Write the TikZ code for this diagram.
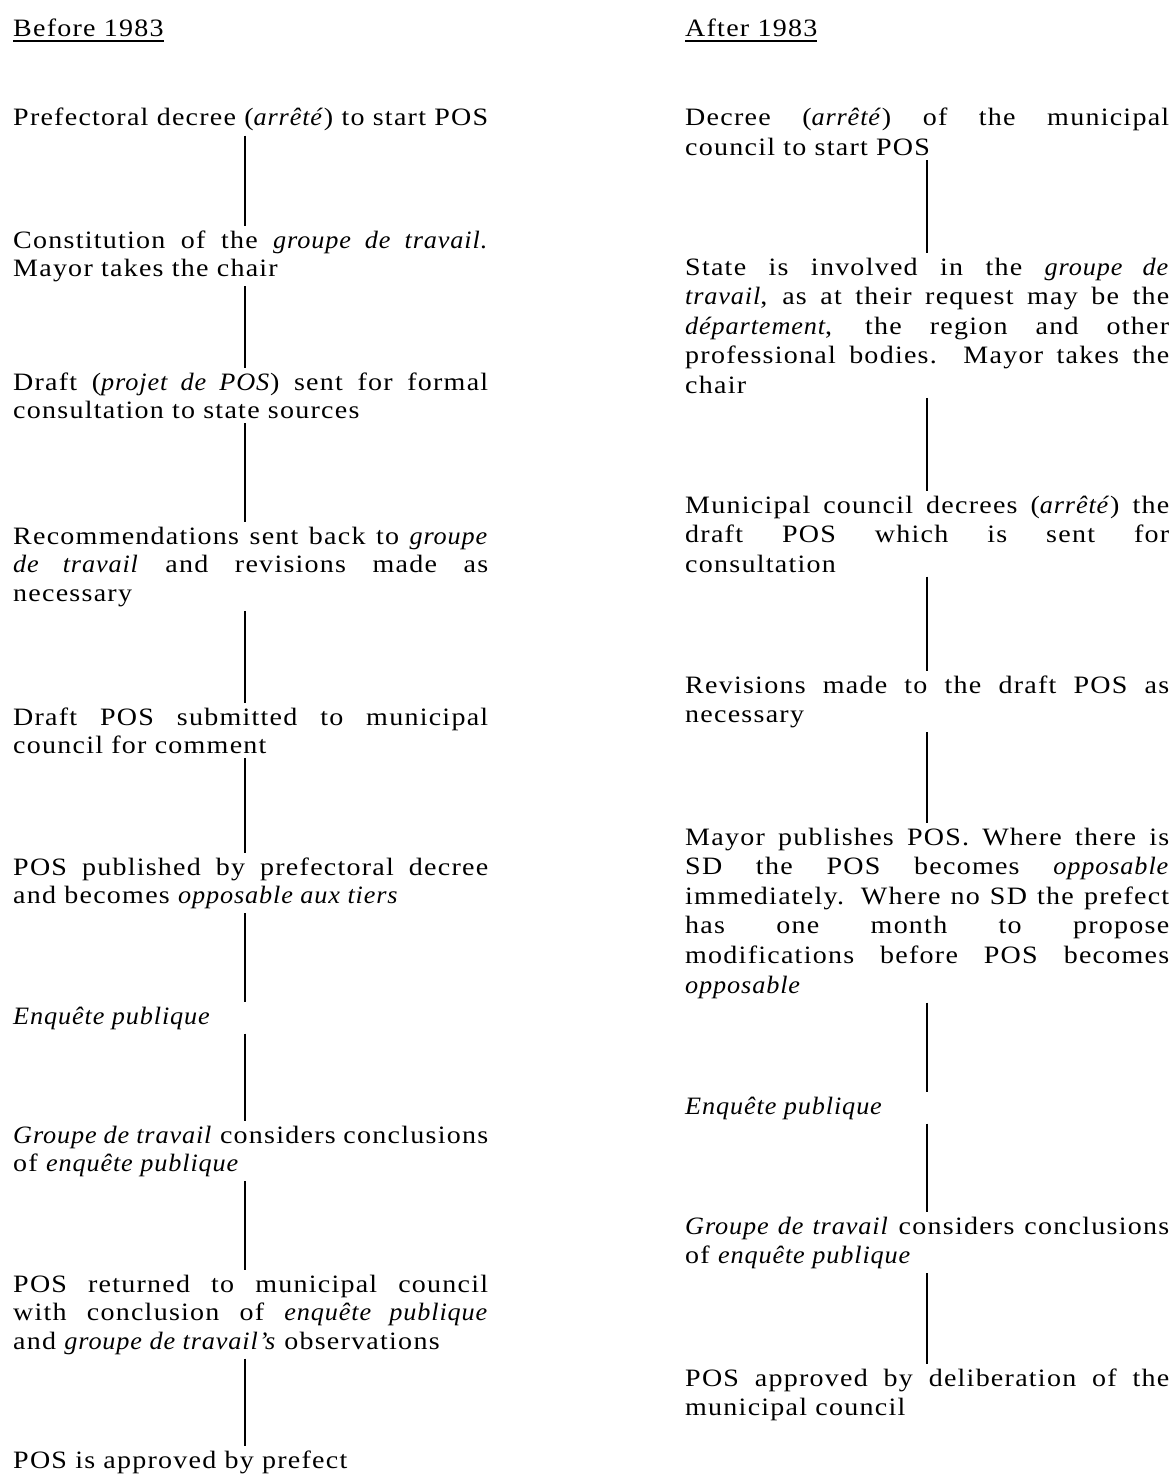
\documentclass[tikz,border=0pt]{standalone}
\usepackage{fontspec}
\setmainfont{Liberation Serif}[FakeStretch=1.12,LetterSpace=5,ItalicFeatures={FakeStretch=1.05,LetterSpace=3.5}]
\newlength\colw
\newcommand\jline[1]{\hbox to\colw{#1}}
\newcommand\nline[1]{\hbox{#1}}
\newcommand\blockL[1]{\vtop{\colw=475pt\baselineskip=28.6pt\lineskiplimit=-100pt #1}}
\newcommand\blockR[1]{\vtop{\colw=484pt\baselineskip=29.6pt\lineskiplimit=-100pt #1}}
\begin{document}
\begin{tikzpicture}[x=1pt,y=-1pt,
  txt/.style={inner xsep=0pt, inner ysep=4pt, anchor=base west, font=\fontsize{25}{29}\selectfont},
  conn/.style={line width=1.6pt},
  uline/.style={line width=1.3pt}]
\useasboundingbox (0,0) rectangle (1175,1479);
\coordinate (xL) at (245,0);
\coordinate (xR) at (927,0);
% headers
\node[txt] (hL) at (13,37) {Before 1983};
\node[txt] (hR) at (685,37) {After 1983};
\draw[uline] ([yshift=-4pt]hL.base west) -- ([yshift=-4pt]hL.base east);
\draw[uline] ([yshift=-4pt]hR.base west) -- ([yshift=-4pt]hR.base east);
% left column
\node[txt] (L1) at (13,126) {\blockL{\nline{Prefectoral decree (\textit{arrêté}) to start POS}}};
\node[txt] (L2) at (13,248) {\blockL{\jline{Constitution of the \textit{groupe de travail.}}\nline{Mayor takes the chair}}};
\node[txt] (L3) at (13,390) {\blockL{\jline{Draft (\textit{projet de POS}) sent for formal}\nline{consultation to state sources}}};
\node[txt] (L4) at (13,544) {\blockL{\jline{Recommendations sent back to \textit{groupe}}\jline{\textit{de travail} and revisions made as}\nline{necessary}}};
\node[txt] (L5) at (13,725) {\blockL{\jline{Draft POS submitted to municipal}\nline{council for comment}}};
\node[txt] (L6) at (13,875) {\blockL{\jline{POS published by prefectoral decree}\nline{and becomes \textit{opposable aux tiers}}}};
\node[txt] (L7) at (13,1024) {\blockL{\nline{\textit{Enquête publique}}}};
\node[txt] (L8) at (13,1143) {\blockL{\jline{\textit{Groupe de travail} considers conclusions}\nline{of \textit{enquête publique}}}};
\node[txt] (L9) at (13,1292) {\blockL{\jline{POS returned to municipal council}\jline{with conclusion of \textit{enquête publique}}\nline{and \textit{groupe de travail's} observations}}};
\node[txt] (L10) at (13,1468) {\blockL{\nline{POS is approved by prefect}}};
% right column
\node[txt] (R1) at (685,126) {\blockR{\jline{Decree (\textit{arrêté}) of the municipal}\nline{council to start POS}}};
\node[txt] (R2) at (685,275) {\blockR{\jline{State is involved in the \textit{groupe de}}\jline{\textit{travail}, as at their request may be the}\jline{\textit{département}, the region and other}\jline{professional bodies. Mayor takes the}\nline{chair}}};
\node[txt] (R3) at (685,513) {\blockR{\jline{Municipal council decrees (\textit{arrêté}) the}\jline{draft POS which is sent for}\nline{consultation}}};
\node[txt] (R4) at (685,693) {\blockR{\jline{Revisions made to the draft POS as}\nline{necessary}}};
\node[txt] (R5) at (685,845) {\blockR{\jline{Mayor publishes POS. Where there is}\jline{SD the POS becomes \textit{opposable}}\jline{immediately. Where no SD the prefect}\jline{has one month to propose}\jline{modifications before POS becomes}\nline{\textit{opposable}}}};
\node[txt] (R6) at (685,1114) {\blockR{\nline{\textit{Enquête publique}}}};
\node[txt] (R7) at (685,1234) {\blockR{\jline{\textit{Groupe de travail} considers conclusions}\nline{of \textit{enquête publique}}}};
\node[txt] (R8) at (685,1386) {\blockR{\jline{POS approved by deliberation of the}\nline{municipal council}}};
% connectors
\foreach \a/\b in {L1/L2,L2/L3,L3/L4,L4/L5,L5/L6,L6/L7,L7/L8,L8/L9,L9/L10}
  \draw[conn] (\a.south -| xL) -- (\b.north -| xL);
\foreach \a/\b in {R1/R2,R2/R3,R3/R4,R4/R5,R5/R6,R6/R7,R7/R8}
  \draw[conn] (\a.south -| xR) -- (\b.north -| xR);
\end{tikzpicture}
\end{document}
